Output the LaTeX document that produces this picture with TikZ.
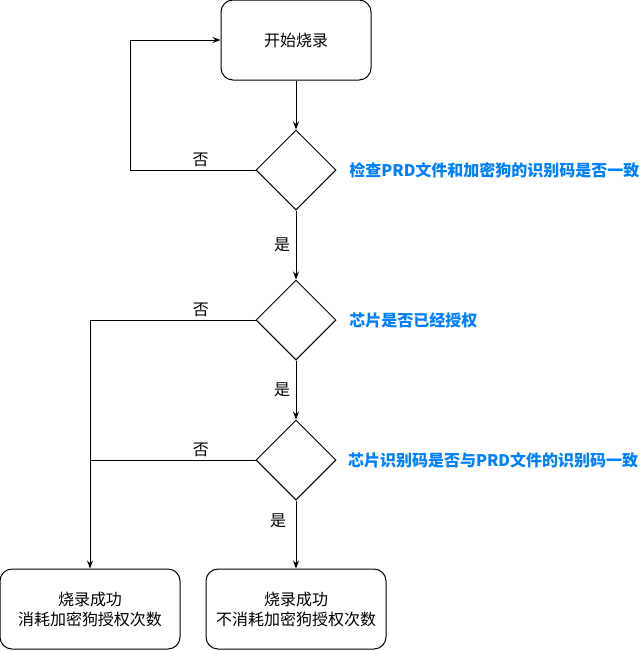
\documentclass[tikz,border=0pt]{standalone}
\usepackage{fontspec}
\setmainfont{Noto Sans CJK SC}
\usepackage{xcolor}
\usetikzlibrary{arrows.meta, positioning, shapes.geometric}

\definecolor{hintblue}{HTML}{007FFF}

\begin{document}
\begin{tikzpicture}[
    x=0.75pt, y=-0.75pt,
    >={Stealth[length=6pt, width=4.5pt]},
    line width=0.75pt,
    every node/.style={font=\fontsize{12pt}{15pt}\selectfont},
    process/.style={draw, line width=0.75pt, rectangle, rounded corners=9pt, minimum width=112.5pt, minimum height=60pt, align=center},
    endbox/.style={draw, line width=0.75pt, rectangle, rounded corners=9pt, minimum width=135pt, minimum height=60pt, align=center},
    decision/.style={draw, line width=0.75pt, diamond, minimum width=60pt, minimum height=60pt, inner sep=0pt},
    hint/.style={text=hintblue, font=\fontsize{12pt}{15pt}\selectfont\bfseries, anchor=west},
    answer/.style={inner sep=2pt}
]
\useasboundingbox (0,0) rectangle (641,651);

% Start
\node[process] (start) at (296,40) {开始烧录};

% Checks
\node[decision, below=36.75pt of start] (checkprd) {};
\node[decision, below=51.75pt of checkprd] (checkauth) {};
\node[decision, below=44.25pt of checkauth] (checkid) {};

\node[hint, right=6pt of checkprd] (hintprd) {检查PRD文件和加密狗的识别码是否一致};
\node[hint, right=6pt of checkauth] (hintauth) {芯片是否已经授权};
\node[hint, right=5pt of checkid] (hintid) {芯片识别码是否与PRD文件的识别码一致};

% Results
\node[endbox, below=51pt of checkid] (keepcount) {烧录成功\\不消耗加密狗授权次数};
\node[endbox, left=18.75pt of keepcount] (usecount) {烧录成功\\消耗加密狗授权次数};

% Connections
\draw[->] (start) -- (checkprd);
\draw[->] (checkprd) -- node[answer, left, xshift=-2pt] {是} (checkauth);
\draw[->] (checkauth) -- node[answer, left, xshift=-2pt] {是} (checkid);
\draw[->] (checkid) -- node[answer, left, pos=0.3, xshift=-5pt] {是} (keepcount);

% Back to start
\draw[->] (checkprd.west) -- node[answer, above, pos=0.44] {否} ++(-93.75pt,0) |- (start.west);

% No branches
\draw[->] (checkauth.west) -- node[answer, above, pos=0.33] {否} (checkauth.west -| usecount.north) -- (usecount.north);
\draw (checkid.west) -- node[answer, above, pos=0.33] {否} (checkid.west -| usecount.north);

\end{tikzpicture}
\end{document}
